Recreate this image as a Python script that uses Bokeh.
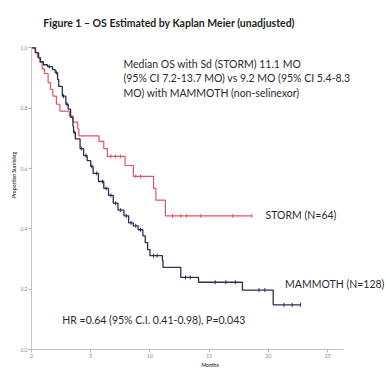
import math
from bokeh.plotting import figure
from bokeh.models import Range1d, Label, FixedTicker, CustomJSTickFormatter
from bokeh.embed import file_html
from bokeh.resources import INLINE

# ---- data ----
storm_t = [0, 0.3, 0.5, 0.7, 0.9, 1.1, 1.4, 1.6, 1.8, 2.1, 2.4, 3.2, 3.5, 3.9, 4.0,
           5.7, 6.1, 6.4, 7.9, 8.6, 10.3, 10.5, 11.3, 18.6]
storm_s = [1.0, 0.984, 0.968, 0.952, 0.93, 0.915, 0.885, 0.862, 0.84, 0.813, 0.79, 0.774,
           0.754, 0.731, 0.708, 0.69, 0.666, 0.64, 0.61, 0.574, 0.534, 0.495, 0.443, 0.443]
storm_cens = [6.7, 7.1, 7.5, 8.8, 9.2, 11.9, 12.6, 13.1, 14.3, 17.0, 18.6]

mam_t = [0, 0.34, 0.6, 0.76, 1.0, 1.35, 1.77, 2.0, 2.2, 2.3, 2.6, 2.9, 3.1, 3.3, 3.5, 3.55,
         3.7, 4.1, 4.4, 4.7, 5.0, 5.2, 5.65, 6.1, 6.5, 6.9, 7.3, 7.8, 8.2, 8.6, 9.0, 9.4,
         9.6, 9.8, 10.0, 11.05, 11.1, 12.6, 14.1, 17.8, 20.4, 22.7]
mam_s = [1.0, 0.984, 0.967, 0.954, 0.944, 0.938, 0.928, 0.918, 0.895, 0.872, 0.84, 0.813,
         0.797, 0.77, 0.74, 0.72, 0.698, 0.666, 0.643, 0.626, 0.607, 0.584, 0.557, 0.534,
         0.511, 0.485, 0.462, 0.443, 0.42, 0.41, 0.397, 0.377, 0.354, 0.331, 0.311, 0.295,
         0.272, 0.239, 0.223, 0.197, 0.148, 0.148]
mam_cens = [1.5, 2.1, 2.7, 3.0, 3.6, 4.2, 4.6, 5.1, 5.5, 6.0, 6.3, 6.7, 7.1, 7.5, 8.0, 8.4,
            8.8, 9.2, 10.3, 10.6, 13.0, 13.4, 15.5, 16.4, 17.2, 19.2, 19.7, 21.3, 22.0, 22.7]

x_ticks = [0, 5, 10, 15, 20, 25]
y_ticks = [0.0, 0.2, 0.4, 0.6, 0.8, 1.0]

title = "Figure 1 \u2013 OS Estimated by Kaplan Meier (unadjusted)"
note_lines = ["Median OS with Sd (STORM) 11.1 MO",
              "(95% CI 7.2-13.7 MO) vs 9.2 MO (95% CI 5.4-8.3",
              "MO) with MAMMOTH (non-selinexor)"]
storm_label = "STORM (N=64)"
mam_label = "MAMMOTH (N=128)"
hr_text = "HR =0.64 (95% C.I. 0.41-0.98), P=0.043"

RED = "#de5566"
NAVY = "#2c3050"
TXT = "#2b2b2b"
FONT = "Lato"


def surv_at(ts, ss, t):
    v = ss[0]
    for ti, si in zip(ts, ss):
        if ti <= t:
            v = si
    return v


p = figure(width=388, height=370, x_range=Range1d(0, 30.13), y_range=Range1d(0, 1.157),
           output_backend="svg", toolbar_location=None,
           min_border_left=31, min_border_right=0, min_border_top=0, min_border_bottom=17)
p.outline_line_color = None
p.grid.visible = False
p.background_fill_color = "white"
p.border_fill_color = "white"

for ax in (p.xaxis[0], p.yaxis[0]):
    ax.axis_line_color = "#c4c4c4"
    ax.major_tick_line_color = "#b0b0b0"
    ax.minor_tick_line_color = None
    ax.major_tick_out = 3
    ax.major_tick_in = 0
    ax.major_label_text_font_size = "5px"
    ax.major_label_text_color = "#8a8a8a"
    ax.major_label_standoff = 1
    ax.axis_label_text_font_size = "5px"
    ax.axis_label_text_font_style = "bold"
    ax.axis_label_text_color = "#444444"
    ax.axis_label_standoff = 1
    ax.axis_label_text_font = FONT
    ax.major_label_text_font = FONT

p.xaxis.ticker = FixedTicker(ticks=x_ticks)
p.yaxis.ticker = FixedTicker(ticks=y_ticks)
p.yaxis.formatter = CustomJSTickFormatter(code="return tick.toFixed(1);")
p.xaxis.bounds = (0, 26.3)
p.yaxis.bounds = (0, 1.0)
p.xaxis.axis_label = "Months"
p.yaxis.axis_label = "Proportion Surviving"

p.step(storm_t, storm_s, mode="after", line_color=RED, line_width=1.2)
p.step(mam_t, mam_s, mode="after", line_color=NAVY, line_width=1.3)

p.scatter(storm_cens, [surv_at(storm_t, storm_s, t) for t in storm_cens], marker="dash",
          angle=math.pi / 2, size=4, line_color=RED, line_width=1)
p.scatter(mam_cens, [surv_at(mam_t, mam_s, t) for t in mam_cens], marker="dash",
          angle=math.pi / 2, size=4, line_color=NAVY, line_width=1)

p.add_layout(Label(x=1.0, y=1.082, text=title, text_font=FONT, text_font_size="10.5px",
                   text_font_style="bold", text_color="#1e1e1e", text_baseline="middle"))
for i, line in enumerate(note_lines):
    p.add_layout(Label(x=7.76, y=0.948 - i * 0.048, text=line, text_font=FONT,
                       text_font_size="10.5px", text_color=TXT, text_baseline="middle"))
p.add_layout(Label(x=19.75, y=0.446, text=storm_label, text_font=FONT, text_font_size="10.5px",
                   text_color=TXT, text_baseline="middle"))
p.add_layout(Label(x=21.4, y=0.216, text=mam_label, text_font=FONT, text_font_size="10.5px",
                   text_color=TXT, text_baseline="middle"))
p.add_layout(Label(x=2.6, y=0.098, text=hr_text, text_font=FONT, text_font_size="10.5px",
                   text_color=TXT, text_baseline="middle"))

open("out.html", "w").write(file_html(p, INLINE))
